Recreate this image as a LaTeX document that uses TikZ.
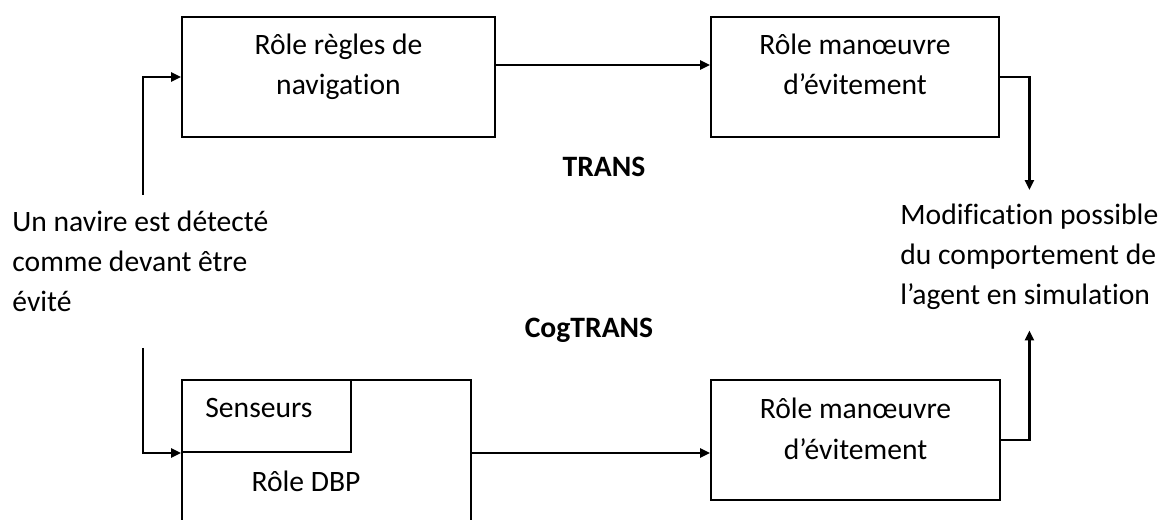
\documentclass[tikz,border=0pt]{standalone}
\usepackage{fontspec}
\setmainfont{Carlito}[Ligatures=NoCommon]
\usetikzlibrary{arrows.meta,positioning,calc}
\tikzset{
  font=\fontsize{14.8pt}{20pt}\selectfont,
  block/.style={
    draw=black,
    line width=1pt,
    fill=white,
    minimum height=60pt,
    inner sep=0pt
  },
  boxtext/.style={
    inner sep=0pt,
    align=center,
    anchor=base
  },
  note/.style={
    inner sep=0pt,
    align=left,
    anchor=base west
  },
  title/.style={
    font=\fontsize{14.8pt}{20pt}\selectfont\bfseries,
    inner sep=0pt,
    anchor=base
  },
  arrow/.style={
    -{Triangle[length=5pt,width=4.5pt]},
    line width=1.2pt
  }
}

\begin{document}
\begin{tikzpicture}[x=0.5pt, y=0.5pt]
\useasboundingbox (0,0) rectangle (1158,520);
\clip (0,0) rectangle (1158,520);

% TRANS row
\node[block, minimum width=156.5pt] (nav) at (338.5,443) {};
\node[boxtext] (navtext) at (338.5,425) {Rôle règles de\\navigation};
\node[block, minimum width=144pt] (evitA) at (855,443) {};
\node[boxtext] (evitAtext) at (855,425) {Rôle manœuvre\\d’évitement};
\node[title] (trans) at (604,343) {TRANS};

% CogTRANS row
\node[block, minimum width=144.5pt, minimum height=90pt] (dbp) at (326.5,50) {};
\node[block, minimum width=84.5pt, minimum height=36pt] (sens) at (266.5,104) {};
\node[note] (senstext) at (205,102) {Senseurs};
\node[boxtext] (dbptext) at (306,28) {Rôle DBP};
\node[block, minimum width=144.5pt] (evitB) at (855.5,80) {};
\node[boxtext] (evitBtext) at (855.5,61) {Rôle manœuvre\\d’évitement};
\node[title] (cogtrans) at (589,182) {CogTRANS};

% start and result (last line sits on the anchor)
\node[note] (detect) at (12,208) {Un navire est détecté\\comme devant être\\évité};
\node[note] (result) at (900,215) {Modification possible\\du comportement de\\l’agent en simulation};
\coordinate (inA) at (143,325);
\coordinate (inB) at (143,172);

\draw[arrow] (inA) |- (nav.west);
\draw[arrow] ([yshift=6pt]nav.east) -- ([yshift=6pt]evitA.west);
\draw[arrow] (evitA.east) -| ([yshift=7pt]result.north);
\draw[arrow] (inB) |- (sens.south west);
\draw[arrow] (dbp.east |- sens.south) -- (evitB.west |- sens.south);
\draw[arrow] (evitB.east) -| ([yshift=-10pt]result.south);

\end{tikzpicture}
\end{document}
